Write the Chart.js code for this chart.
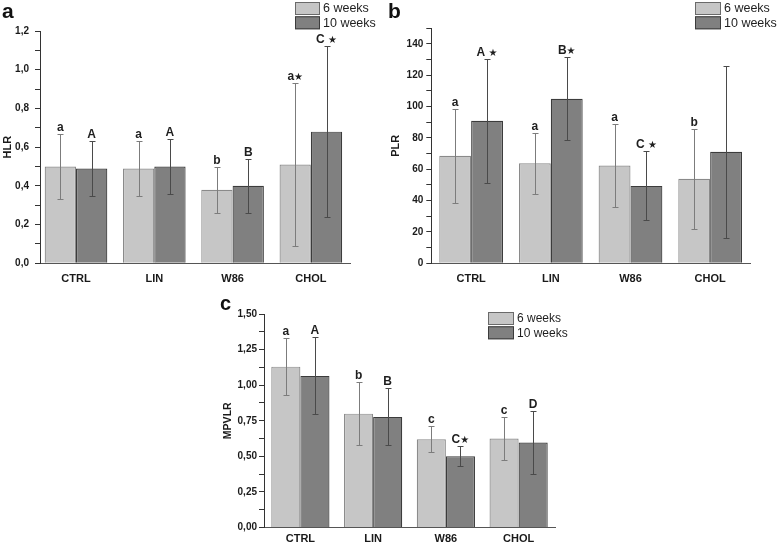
<!DOCTYPE html>
<html><head><meta charset="utf-8">
<script src="https://cdn.jsdelivr.net/npm/chart.js@4.4.1/dist/chart.umd.min.js"></script>
<style>
html,body{margin:0;padding:0;background:#fff;}
body{width:778px;height:546px;position:relative;overflow:hidden;}
canvas{position:absolute;}
</style></head><body>
<canvas id="cA" width="385" height="292" style="left:0px;top:0px"></canvas>
<canvas id="cB" width="393" height="292" style="left:385px;top:0px"></canvas>
<canvas id="cC" width="400" height="254" style="left:200px;top:292px"></canvas>
<script>
const categories = ['CTRL', 'LIN', 'W86', 'CHOL'];
const seriesNames = ['6 weeks', '10 weeks'];

// Panel a: HLR
const hlr6 = [0.50, 0.49, 0.38, 0.51];
const hlr6Err = [0.17, 0.14, 0.12, 0.42];
const hlr10 = [0.49, 0.50, 0.40, 0.68];
const hlr10Err = [0.14, 0.14, 0.14, 0.44];
const hlrSig6 = ['a', 'a', 'b', 'a★'];
const hlrSig10 = ['A', 'A', 'B', 'C ★'];
const hlrTicks = [0, 0.2, 0.4, 0.6, 0.8, 1.0, 1.2];
const hlrTickLabels = ['0,0', '0,2', '0,4', '0,6', '0,8', '1,0', '1,2'];

// Panel b: PLR
const plr6 = [68.6, 63.9, 62.4, 53.9];
const plr6Err = [30, 19.4, 26.6, 32];
const plr10 = [91, 105, 49.4, 71.2];
const plr10Err = [39.5, 26.5, 22, 55];
const plrSig6 = ['a', 'a', 'a', 'b'];
const plrSig10 = ['A ★', 'B★', 'C ★', ''];
const plrTicks = [0, 20, 40, 60, 80, 100, 120, 140];
const plrTickLabels = ['0', '20', '40', '60', '80', '100', '120', '140'];

// Panel c: MPVLR
const mpvlr6 = [1.13, 0.80, 0.62, 0.625];
const mpvlr6Err = [0.20, 0.22, 0.09, 0.15];
const mpvlr10 = [1.065, 0.777, 0.50, 0.597];
const mpvlr10Err = [0.27, 0.20, 0.07, 0.22];
const mpvlrSig6 = ['a', 'b', 'c', 'c'];
const mpvlrSig10 = ['A', 'B', 'C★', 'D'];
const mpvlrTicks = [0, 0.25, 0.5, 0.75, 1.0, 1.25, 1.5];
const mpvlrTickLabels = ['0,00', '0,25', '0,50', '0,75', '1,00', '1,25', '1,50'];

const FONT = "'Liberation Sans', Arial, Helvetica, sans-serif";

const catPad = {
  id: 'catpad',
  afterLayout(chart, args, opts) {
    const s = chart.scales.x;
    const n = s.getLabels().length;
    s._startValue = -opts.left;
    s._valueRange = n - 1 + opts.left + opts.right;
  }
};

function drawSig(ctx, text, cx, baseY, o) {
  if (!text) return;
  const parts = text.split('★');
  const main = parts[0];
  const hasStar = parts.length > 1;
  ctx.font = 'bold ' + o.sigSize + 'px ' + FONT;
  const w1 = ctx.measureText(main).width;
  ctx.font = o.starSize + "px 'DejaVu Sans', sans-serif";
  const w2 = hasStar ? ctx.measureText('★').width : 0;
  let x = cx - (w1 + w2) / 2;
  ctx.fillStyle = '#1e1e1e';
  ctx.textBaseline = 'alphabetic';
  ctx.textAlign = 'left';
  ctx.font = 'bold ' + o.sigSize + 'px ' + FONT;
  ctx.fillText(main, x, baseY);
  if (hasStar) {
    ctx.font = o.starSize + "px 'DejaVu Sans', sans-serif";
    ctx.fillText('★', x + w1, baseY);
  }
}

const decor = {
  id: 'decor',
  afterDatasetsDraw(chart, args, o) {
    const ctx = chart.ctx, ys = chart.scales.y;
    chart.data.datasets.forEach((ds, i) => {
      const meta = chart.getDatasetMeta(i);
      meta.data.forEach((bar, j) => {
        const v = ds.data[j], e = ds.errorBars[j];
        const x = Math.round(bar.x) + 0.5;
        const yHi = Math.round(ys.getPixelForValue(v + e)) + 0.5;
        const yLo = Math.round(ys.getPixelForValue(v - e)) + 0.5;
        ctx.save();
        ctx.strokeStyle = ds.errColor;
        ctx.lineWidth = 1;
        ctx.beginPath();
        ctx.moveTo(x, yLo); ctx.lineTo(x, yHi);
        ctx.moveTo(x - 3, yHi); ctx.lineTo(x + 3, yHi);
        ctx.moveTo(x - 3, yLo); ctx.lineTo(x + 3, yLo);
        ctx.stroke();
        drawSig(ctx, ds.sigLabels[j], bar.x, yHi - o.sigGap, o);
        ctx.restore();
      });
    });
  },
  afterDraw(chart, args, o) {
    const ctx = chart.ctx;
    ctx.save();
    // panel letter
    ctx.fillStyle = '#111';
    ctx.font = 'bold ' + o.letterSize + 'px ' + FONT;
    ctx.textBaseline = 'alphabetic';
    ctx.textAlign = 'left';
    ctx.fillText(o.letter, o.letterX, o.letterY);
    // legend
    chart.data.datasets.forEach((ds, i) => {
      const by = o.legY + i * o.legStep;
      ctx.fillStyle = ds.backgroundColor;
      ctx.fillRect(o.legX, by, o.boxW, o.boxH);
      ctx.strokeStyle = ds.legBorder;
      ctx.lineWidth = 1;
      ctx.strokeRect(o.legX + 0.5, by + 0.5, o.boxW - 1, o.boxH - 1);
      ctx.fillStyle = '#1e1e1e';
      ctx.font = o.legSize + 'px ' + FONT;
      ctx.textBaseline = 'middle';
      ctx.fillText(ds.label, o.legX + o.boxW + 3, by + o.boxH / 2 + 0.5);
    });
    ctx.restore();
  }
};

function makePanel(id, p) {
  const fmt = (value) => {
    const k = p.majors.findIndex(t => Math.abs(t - value) < 1e-6);
    return k >= 0 ? p.majorLabels[k] : '';
  };
  return new Chart(document.getElementById(id), {
    type: 'bar',
    data: {
      labels: categories,
      datasets: [
        { label: seriesNames[0], data: p.d6, errorBars: p.e6, sigLabels: p.s6,
          backgroundColor: '#c6c6c6', borderColor: '#8a8a8a', borderWidth: 1.2,
          errColor: '#7c7c7c', legBorder: '#6a6a6a' },
        { label: seriesNames[1], data: p.d10, errorBars: p.e10, sigLabels: p.s10,
          backgroundColor: '#808080', borderColor: '#3c3c3c', borderWidth: 1.2,
          errColor: '#4a4a4a', legBorder: '#3c3c3c' }
      ]
    },
    options: {
      responsive: false, animation: false, devicePixelRatio: 1,
      layout: { padding: { left: 0, right: p.padRight, top: p.padTop, bottom: 0 } },
      datasets: { bar: { categoryPercentage: 0.8, barPercentage: 1.0 } },
      plugins: {
        legend: { display: false },
        tooltip: { enabled: false },
        catpad: { left: p.catL, right: p.catR },
        decor: p.decor
      },
      scales: {
        x: {
          type: 'category', offset: true,
          grid: { display: false, drawTicks: false },
          border: { display: true, color: '#555', width: 1 },
          ticks: { font: { family: FONT, size: 11, weight: 'bold' }, color: '#1a1a1a',
                   padding: p.xPad, autoSkip: false, maxRotation: 0 },
          afterFit: s => { s.height = p.xH; }
        },
        y: {
          min: 0, max: p.max,
          ticks: { stepSize: p.step, autoSkip: false, callback: fmt,
                   font: { family: FONT, size: 10, weight: 'bold' }, color: '#1a1a1a', padding: p.yPad },
          grid: { drawOnChartArea: false, drawTicks: true, tickLength: 5, color: '#333' },
          border: { display: true, color: '#333', width: 1 },
          title: { display: true, text: p.title, color: '#1a1a1a',
                   font: { family: FONT, size: p.titleSize, weight: 'bold' },
                   padding: { top: p.titlePad, bottom: 0 } },
          afterFit: s => { s.width = p.yW; }
        }
      }
    },
    plugins: [catPad, decor]
  });
}

const sigCommon = { sigGap: 4, sigSize: 12, starSize: 10 };

makePanel('cA', {
  d6: hlr6, e6: hlr6Err, s6: hlrSig6, d10: hlr10, e10: hlr10Err, s10: hlrSig10,
  majors: hlrTicks, majorLabels: hlrTickLabels, max: 1.2, step: 0.1, title: 'HLR', titleSize: 11,
  yW: 40, padRight: 35, padTop: 31, xH: 28.7, catL: 0.46, catR: 0.5, titlePad: 1.4, xPad: 8.6, yPad: 6,
  decor: Object.assign({ letter: 'a', letterX: 2, letterY: 18, letterSize: 21,
    legX: 295, legY: 2, legStep: 14.3, boxW: 25, boxH: 13, legSize: 12.5 }, sigCommon)
});

makePanel('cB', {
  d6: plr6, e6: plr6Err, s6: plrSig6, d10: plr10, e10: plr10Err, s10: plrSig10,
  majors: plrTicks, majorLabels: plrTickLabels, max: 150, step: 10, title: 'PLR', titleSize: 11,
  yW: 46.3, padRight: 28, padTop: 28.3, xH: 28.7, catL: 0.5, catR: 0.5, titlePad: 4.4, xPad: 8.6, yPad: 3,
  decor: Object.assign({ letter: 'b', letterX: 3, letterY: 18, letterSize: 21,
    legX: 310, legY: 2, legStep: 14.3, boxW: 26, boxH: 13, legSize: 12.5 }, sigCommon)
});

makePanel('cC', {
  d6: mpvlr6, e6: mpvlr6Err, s6: mpvlrSig6, d10: mpvlr10, e10: mpvlr10Err, s10: mpvlrSig10,
  majors: mpvlrTicks, majorLabels: mpvlrTickLabels, max: 1.5, step: 0.125, title: 'MPVLR', titleSize: 10.5,
  yW: 64, padRight: 45, padTop: 22, xH: 18.5, catL: 0.5, catR: 0.5, titlePad: 21.7, xPad: 4.9, yPad: 2,
  decor: Object.assign({ letter: 'c', letterX: 20, letterY: 18, letterSize: 20,
    legX: 288, legY: 20, legStep: 14.3, boxW: 26, boxH: 13, legSize: 12 }, sigCommon)
});
</script>
</body></html>
